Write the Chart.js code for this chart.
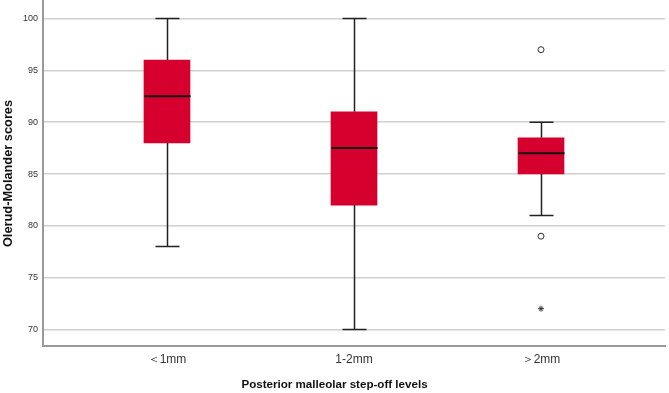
<!DOCTYPE html>
<html>
<head>
<meta charset="utf-8">
<script src="https://cdn.jsdelivr.net/npm/chart.js@4.4.1/dist/chart.umd.min.js"></script>
<style>
html,body{margin:0;padding:0;background:#fff;}
canvas{display:block;}
</style>
</head>
<body>
<canvas id="c" width="669" height="393"></canvas>
<script>
const categories = ['＜1mm', '1-2mm', '＞2mm'];
const whiskerLow = [78, 70, 81];
const q1 = [88, 82, 85];
const medians = [92.5, 87.5, 87];
const q3 = [96, 91, 88.5];
const whiskerHigh = [100, 100, 90];
const circleOutlierCat = [2, 2];
const circleOutlierVal = [97, 79];
const starOutlierCat = [2];
const starOutlierVal = [72];
const yTicks = [70, 75, 80, 85, 90, 95, 100];
const yTitle = 'Olerud-Molander scores';
const xTitle = 'Posterior malleolar step-off levels';

const BOX_W = 46, CAP_W = 24;
const FONT = '"Liberation Sans", Arial, sans-serif';

const boxPlugin = {
  id: 'boxParts',
  afterDatasetsDraw(chart) {
    const ctx = chart.ctx, xs = chart.scales.x, ys = chart.scales.y;
    ctx.save();
    categories.forEach((c, i) => {
      const x = Math.round(xs.getPixelForValue(i)) + 0.5;
      ctx.strokeStyle = '#222';
      ctx.lineWidth = 1.5;
      ctx.beginPath();
      ctx.moveTo(x, ys.getPixelForValue(q3[i]));
      ctx.lineTo(x, ys.getPixelForValue(whiskerHigh[i]));
      ctx.moveTo(x, ys.getPixelForValue(q1[i]));
      ctx.lineTo(x, ys.getPixelForValue(whiskerLow[i]));
      ctx.moveTo(x - CAP_W / 2, ys.getPixelForValue(whiskerHigh[i]));
      ctx.lineTo(x + CAP_W / 2, ys.getPixelForValue(whiskerHigh[i]));
      ctx.moveTo(x - CAP_W / 2, ys.getPixelForValue(whiskerLow[i]));
      ctx.lineTo(x + CAP_W / 2, ys.getPixelForValue(whiskerLow[i]));
      ctx.stroke();
      ctx.strokeStyle = '#111';
      ctx.lineWidth = 2;
      ctx.beginPath();
      ctx.moveTo(x - BOX_W / 2, ys.getPixelForValue(medians[i]));
      ctx.lineTo(x + BOX_W / 2, ys.getPixelForValue(medians[i]));
      ctx.stroke();
    });
    ctx.restore();
  },
  afterDraw(chart) {
    const ctx = chart.ctx;
    ctx.save();
    ctx.fillStyle = '#111';
    ctx.font = 'bold 11.6px ' + FONT;
    ctx.textAlign = 'center';
    ctx.textBaseline = 'middle';
    ctx.fillText(xTitle, chart.width / 2, 385);
    ctx.restore();
  }
};

new Chart(document.getElementById('c'), {
  type: 'bar',
  data: {
    datasets: [
      {
        type: 'bar',
        data: categories.map((c, i) => ({ x: i, y: [q1[i], q3[i]] })),
        backgroundColor: '#d6002f',
        borderWidth: 0,
        barThickness: BOX_W
      },
      {
        type: 'scatter',
        data: circleOutlierCat.map((c, i) => ({ x: c, y: circleOutlierVal[i] })),
        pointStyle: 'circle',
        pointRadius: 3,
        borderColor: '#333',
        backgroundColor: '#fff',
        borderWidth: 1
      },
      {
        type: 'scatter',
        data: starOutlierCat.map((c, i) => ({ x: c, y: starOutlierVal[i] })),
        pointStyle: 'star',
        pointRadius: 3,
        borderColor: '#333',
        backgroundColor: '#333',
        borderWidth: 1
      }
    ]
  },
  plugins: [boxPlugin],
  options: {
    responsive: false,
    animation: false,
    layout: { autoPadding: false, padding: { top: 1, right: 4, left: 0, bottom: 0 } },
    plugins: { legend: { display: false }, tooltip: { enabled: false }, title: { display: false } },
    scales: {
      x: {
        type: 'linear',
        offset: false,
        min: -0.663,
        max: 2.663,
        grid: { display: false, drawTicks: false, offset: false },
        border: { display: true, color: '#999', width: 2 },
        afterBuildTicks: s => { s.ticks = categories.map((c, i) => ({ value: i })); },
        ticks: {
          callback: v => categories[v],
          font: { size: 12, family: FONT },
          color: '#333',
          padding: 6,
          maxRotation: 0
        },
        afterFit: s => { s.height = 47; s.paddingLeft = 0; s.paddingRight = 0; }
      },
      y: {
        min: 68.4,
        max: 101.7,
        afterBuildTicks: s => { s.ticks = yTicks.map(v => ({ value: v })); },
        grid: { color: '#d0d0d0', lineWidth: 1.5, drawTicks: false },
        border: { display: true, color: '#999', width: 2 },
        ticks: { font: { size: 9, family: FONT }, color: '#333', padding: 5 },
        title: {
          display: true,
          text: yTitle,
          font: { size: 12.8, weight: 'bold', family: FONT },
          color: '#111',
          padding: { top: 1, bottom: 0 }
        },
        afterFit: s => { s.width = 43; s.paddingTop = 0; s.paddingBottom = 0; }
      }
    }
  }
});
</script>
</body>
</html>
